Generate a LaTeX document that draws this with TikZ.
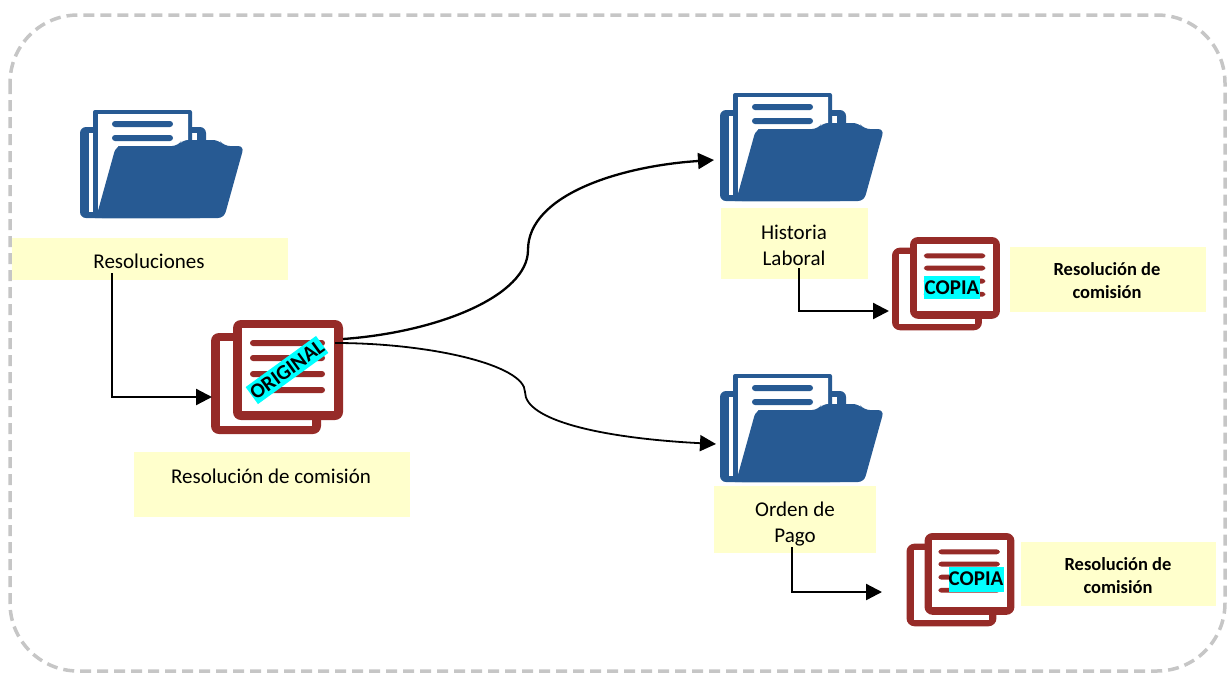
\documentclass[tikz,border=0pt]{standalone}
\usepackage{fontspec}
\setmainfont{Carlito}
\usetikzlibrary{arrows.meta,calc}
\definecolor{folderblue}{HTML}{275A93}
\definecolor{docred}{HTML}{962B28}
\definecolor{labelyellow}{HTML}{FFFFCC}
\definecolor{stampcyan}{HTML}{00FFFF}
\definecolor{framegray}{HTML}{C6C6C6}
\tikzset{
  labelbox/.style={fill=labelyellow,draw=none,inner sep=0pt},
  labeltext/.style={inner sep=0pt,align=center,font=\fontsize{21}{26}\selectfont},
  smalltext/.style={inner sep=0pt,align=center,font=\fontsize{18.5}{23}\selectfont\bfseries},
  stamp/.style={fill=stampcyan,inner sep=0pt,font=\bfseries\fontsize{21}{21}\selectfont},
  link/.style={line width=2.3pt,-{Triangle[length=16pt,width=16pt]}},
  pics/folderpic/.style={code={
    \fill[folderblue,rounded corners=6pt] (0,17) rectangle (126,108);
    \fill[white] (9,23) rectangle (13,102);
    \fill[white] (112,23) rectangle (117,36);
    \fill[folderblue,rounded corners=2pt] (13,0) rectangle (112,108);
    \fill[white] (18,4) -- (108,4) -- (108,36) -- (38,36) -- (18,102) -- cycle;
    \fill[folderblue,rounded corners=6pt] (36,36) -- (98,36) -- (102,30) -- (139,30) -- (144,36) -- (164,36) -- (144,108) -- (16,108) -- cycle;
    \fill[folderblue,rounded corners=3pt] (32,11) rectangle (93,17);
    \fill[folderblue,rounded corners=3pt] (32,25) rectangle (93,31);
  }},
  pics/docpic/.style={code={
    \fill[docred,rounded corners=8pt] (0,13) rectangle (110,114);
    \fill[white] (9,21) rectangle (101,106);
    \fill[docred,rounded corners=8pt] (22,0) rectangle (132,100);
    \fill[white] (31,8) rectangle (123,91);
    \foreach \y in {23,38,54,70} {
      \fill[docred,rounded corners=3pt] (39,\y-3) rectangle (114,\y+3);
    }
  }},
}

\begin{document}
\begin{tikzpicture}[x=1pt,y=-1pt]
  \useasboundingbox (0,0) rectangle (1227,673);
  \draw[framegray,line width=3.5pt,dash pattern=on 11pt off 6pt,rounded corners=68pt] (10,15) rectangle (1225,671);

  \node[labelbox,minimum width=276pt,minimum height=42pt] (resbox) at (150,259) {};
  \node[labelbox,minimum width=276pt,minimum height=65pt] (combox) at (272,484.5) {};
  \node[labelbox,minimum width=147pt,minimum height=71pt] (histbox) at (794.5,243.5) {};
  \node[labelbox,minimum width=162pt,minimum height=67pt] (ordenbox) at (795,519.5) {};
  \node[labelbox,minimum width=196pt,minimum height=65pt] (copiabox) at (1108,279.5) {};
  \node[labelbox,minimum width=195pt,minimum height=64pt] (pagobox) at (1118.5,574) {};

  \node[labeltext] (resoluciones) at (149,261) {Resoluciones};
  \node[labeltext] (comision) at (271,476) {Resolución de comisión};
  \node[labeltext] (historia) at (794,245) {Historia\\Laboral};
  \node[labeltext] (orden) at (795,524) {Orden de\\Pago};
  \node[smalltext] (copiatext) at (1107,281) {Resolución de\\comisión};
  \node[smalltext] (pagotext) at (1118,576) {Resolución de\\comisión};

  \pic at (80,110) {folderpic};
  \pic at (720,93) {folderpic};
  \pic at (720,374) {folderpic};

  \pic at (211,320) {docpic};
  \pic[scale=0.818] at (892,237) {docpic};
  \pic[scale=0.818] at (906.5,533) {docpic};

  \node[stamp,rotate=36,minimum width=87pt,minimum height=21pt] (original) at (287,370) {ORIGINAL};
  \node[stamp,minimum width=56pt,minimum height=23pt] (copia) at (952,287.5) {COPIA};
  \node[stamp,minimum width=55pt,minimum height=25pt] (copiados) at (976,579) {COPIA};

  \coordinate (resout) at (112,273);
  \coordinate (origin) at (212,397);
  \coordinate (origout) at (343,339);
  \coordinate (origoutb) at (335,343);
  \coordinate (folderin) at (714,160);
  \coordinate (folderinb) at (716,444);
  \coordinate (histout) at (799,268);
  \coordinate (histin) at (889,311);
  \coordinate (ordenout) at (792,547);
  \coordinate (ordenin) at (882,592);

  \draw[link] (resout) |- (origin);
  \draw[link] (origout) .. controls (440,332) and (528,295) .. (528,250) .. controls (528,195) and (620,166) .. (folderin);
  \draw[link,line width=1.8pt] (origoutb) .. controls (430,343) and (525,365) .. (525,392) .. controls (525,420) and (600,438) .. (folderinb);
  \draw[link] (histout) |- (histin);
  \draw[link] (ordenout) |- (ordenin);
\end{tikzpicture}
\end{document}
